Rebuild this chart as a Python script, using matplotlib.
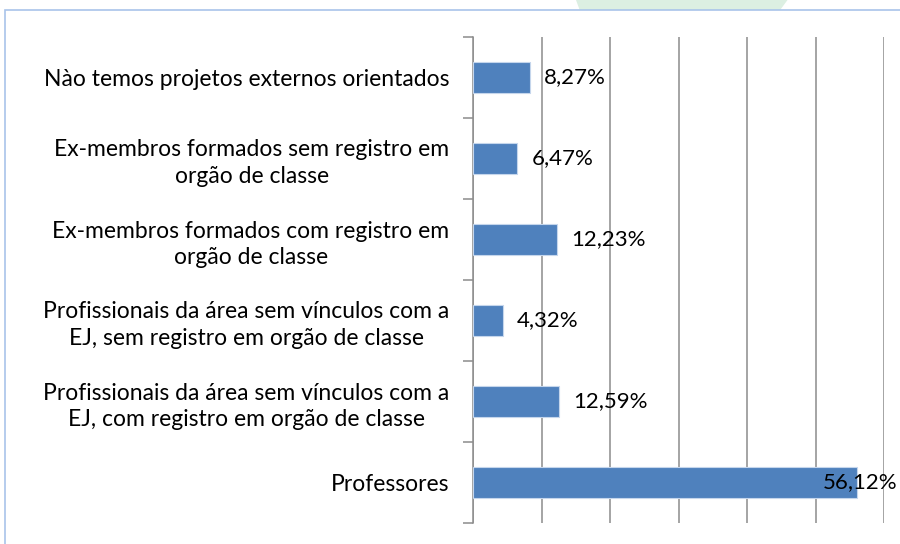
import matplotlib.pyplot as plt
import numpy as np
from matplotlib.patches import Polygon, Rectangle

categories = [
    "Professores",
    "Profissionais da área sem vínculos com a\nEJ, com registro em orgão de classe",
    "Profissionais da área sem vínculos com a\nEJ, sem registro em orgão de classe",
    "Ex-membros formados com registro em\norgão de classe",
    "Ex-membros formados sem registro em\norgão de classe",
    "Nào temos projetos externos orientados",
]
values = [56.12, 12.59, 4.32, 12.23, 6.47, 8.27]
value_labels = ["56,12%", "12,59%", "4,32%", "12,23%", "6,47%", "8,27%"]

plt.rcParams['font.family'] = ['Lato', 'DejaVu Sans']

fig = plt.figure(figsize=(9, 5.44), dpi=100)

# faint green shape at the top and light blue frame
fig.patches.append(Polygon([(0.64, 1.0), (0.875, 1.0), (0.855, 0.955), (0.65, 0.955)],
                           closed=True, transform=fig.transFigure,
                           facecolor='#dcefe2', edgecolor='none', zorder=0))
fig.patches.append(Rectangle((0.006, -0.05), 1.2, 1.032, transform=fig.transFigure,
                             facecolor='white', edgecolor='#a9c4ea', linewidth=1.2, zorder=1))

ax = fig.add_axes([473 / 900, 1 - 523 / 544, (884 - 473) / 900, (523 - 37) / 544])
ax.set_zorder(2)
ax.patch.set_alpha(0)

y = np.arange(len(categories))
ax.barh(y, values, height=0.38, color='#4f81bd', edgecolor='#c5d6ec', linewidth=0.8, zorder=3)

for yi, v, lab in zip(y, values, value_labels):
    ax.text(min(v + 2.1, 51.0), yi, lab, va='center', ha='left', fontsize=16, color='black', zorder=4)

ax.set_xlim(0, 60)
ax.set_ylim(-0.5, len(categories) - 0.5)
ax.set_xticks(np.arange(0, 61, 10))
ax.xaxis.grid(True, color='#8c8c8c', linewidth=1.1)
ax.set_axisbelow(True)
ax.tick_params(axis='x', length=0, labelbottom=False)

ax.set_yticks(y)
ax.set_yticklabels(categories, fontsize=16.5)
for t in ax.get_yticklabels():
    t.set_multialignment('center')
    t.set_linespacing(1.3)
ax.set_yticks(np.arange(-0.5, len(categories), 1), minor=True)
ax.tick_params(axis='y', which='major', length=0, pad=17)
ax.tick_params(axis='y', which='minor', length=7, color='#8c8c8c', width=1.1)

for s in ['top', 'right', 'bottom']:
    ax.spines[s].set_visible(False)
ax.spines['left'].set_color('#8c8c8c')
ax.spines['left'].set_linewidth(1.1)

fig.savefig('out.png', dpi=100)
